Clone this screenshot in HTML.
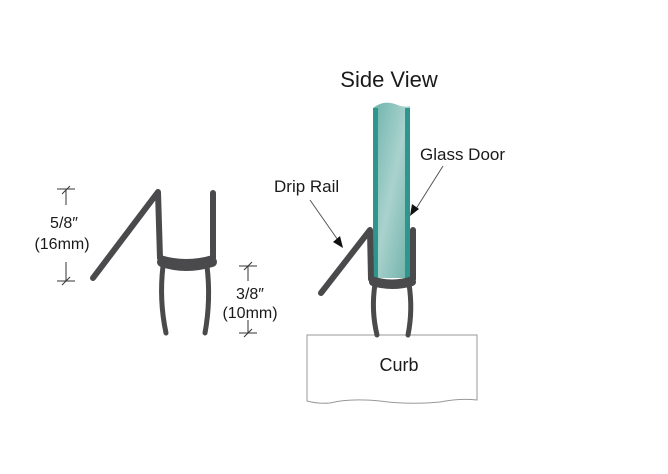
<!DOCTYPE html>
<html><head><meta charset="utf-8"><style>
html,body{margin:0;padding:0;background:#fff;}
svg{display:block;}
text{font-family:"Liberation Sans",sans-serif;fill:#1a1a1a;}
</style></head><body>
<svg width="668" height="474" viewBox="0 0 668 474" xmlns="http://www.w3.org/2000/svg">
<defs>
<linearGradient id="g" x1="0" y1="0" x2="1" y2="1">
<stop offset="0" stop-color="#6fb3ad"/><stop offset="0.5" stop-color="#a9d2cd"/><stop offset="1" stop-color="#6fb0a9"/>
</linearGradient>
</defs>
<!-- Left profile -->
<g fill="none" stroke="#4a4a4c" stroke-linecap="round" stroke-linejoin="round">
<path d="M93,278 L158,192 L160,258 Q186,266 213,258 L213,193" stroke-width="6"/>
<path d="M162,262 Q186,270 212,262" stroke-width="10"/>
<path d="M163,266 Q159,300 166,333" stroke-width="5"/>
<path d="M207,266 Q211,300 205,333" stroke-width="5"/>
</g>
<!-- dims left -->
<g stroke="#333" stroke-width="1" fill="none">
<line x1="66" y1="189" x2="66" y2="205"/><line x1="57" y1="189" x2="75" y2="189"/><line x1="62" y1="194" x2="70" y2="186"/>
<line x1="66" y1="262" x2="66" y2="281"/><line x1="57" y1="281" x2="75" y2="281"/><line x1="62" y1="285" x2="70" y2="277"/>
<line x1="248" y1="266" x2="248" y2="281"/><line x1="239" y1="266" x2="257" y2="266"/><line x1="244" y1="270" x2="252" y2="262"/>
<line x1="248" y1="320" x2="248" y2="333"/><line x1="239" y1="333" x2="257" y2="333"/><line x1="244" y1="337" x2="252" y2="329"/>
</g>
<text x="64" y="228" font-size="16" text-anchor="middle">5/8″</text>
<text x="62" y="249" font-size="16" text-anchor="middle">(16mm)</text>
<text x="250" y="299" font-size="16" text-anchor="middle">3/8″</text>
<text x="250" y="318" font-size="16" text-anchor="middle">(10mm)</text>
<!-- Curb -->
<path d="M307,335 L477,335 L477,400 Q460,398 440,402 Q410,405 380,401 Q350,398 330,403 Q318,404 307,401 Z" fill="#fff" stroke="#999" stroke-width="1"/>
<text x="399" y="371" font-size="18" text-anchor="middle">Curb</text>
<!-- Glass -->
<path d="M373,108 Q383,100 395,104 Q404,108 410,106 L410,278 L373,278 Z" fill="url(#g)"/>
<rect x="373" y="108" width="5" height="170" fill="#2e968c"/>
<rect x="405" y="108" width="5" height="170" fill="#2e968c"/>
<!-- Right profile -->
<g fill="none" stroke="#4a4a4c" stroke-linecap="round" stroke-linejoin="round">
<path d="M321,293 L370,230 L371,279 Q392,286 413,279 L413,230" stroke-width="6"/>
<path d="M373,282 Q392,288 412,282" stroke-width="8"/>
<path d="M375,284 Q371,310 377,335" stroke-width="5"/>
<path d="M409,284 Q413,310 408,335" stroke-width="5"/>
</g>
<!-- labels -->
<text x="389" y="87" font-size="22" text-anchor="middle">Side View</text>
<text x="420" y="160" font-size="17">Glass Door</text>
<text x="274" y="192" font-size="17">Drip Rail</text>
<g stroke="#555" stroke-width="1">
<line x1="310" y1="200" x2="340" y2="243"/>
<line x1="443" y1="166" x2="414" y2="212"/>
</g>
<polygon points="343,248 333,242 340,236" fill="#111"/>
<polygon points="410,216 412,204 419,209" fill="#111"/>
</svg>
</body></html>
